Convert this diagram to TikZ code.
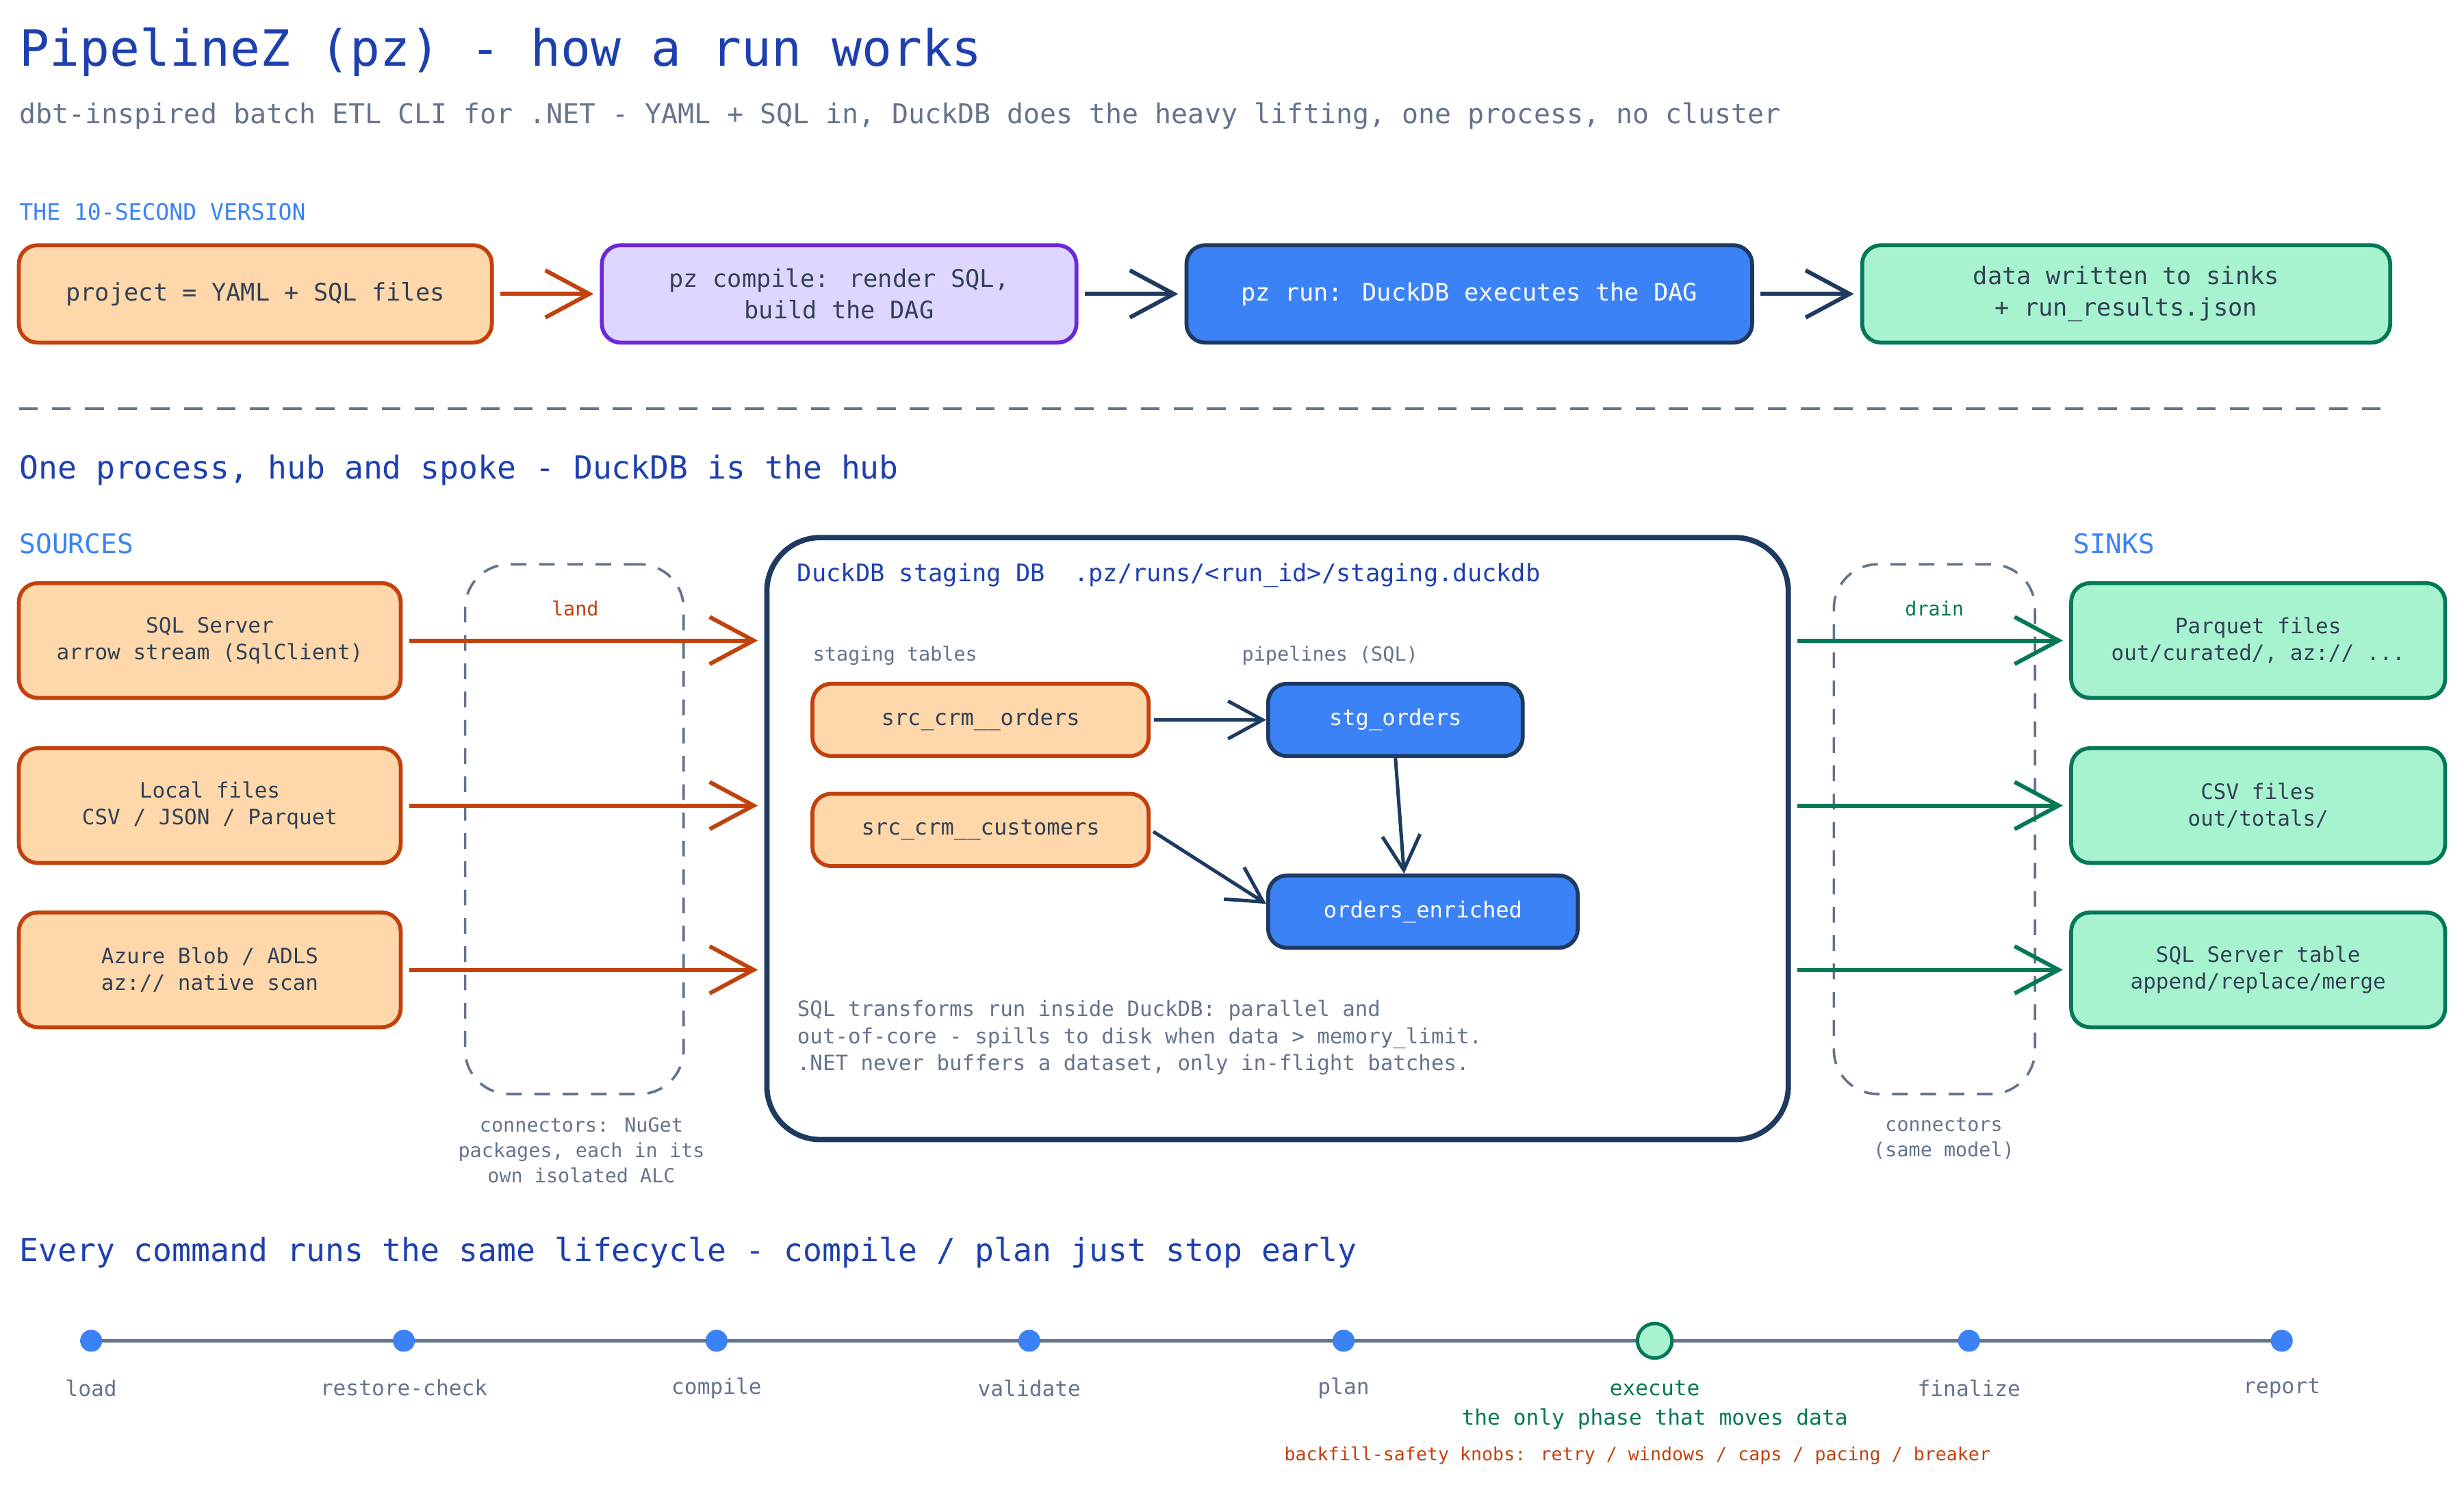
\documentclass[tikz,border=0pt]{standalone}
\usepackage{fontspec}
\setmainfont{DejaVu Sans Mono}
\usetikzlibrary{arrows.meta,calc}
\definecolor{obord}{HTML}{C2410C}
\definecolor{ofill}{HTML}{FED7AA}
\definecolor{pbord}{HTML}{6D28D9}
\definecolor{pfill}{HTML}{DDD6FE}
\definecolor{bfill}{HTML}{3B82F6}
\definecolor{navy}{HTML}{1E3A5F}
\definecolor{gbord}{HTML}{047857}
\definecolor{gfill}{HTML}{A7F3D0}
\definecolor{txt}{HTML}{334155}
\definecolor{gtxt}{HTML}{64748B}
\definecolor{tblue}{HTML}{1E40AF}
\tikzset{
 bx/.style={draw,rounded corners=6pt,line width=1.25pt,align=center,text=txt,font=\fontsize{7.7}{10}\selectfont,inner sep=0pt},
 obox/.style={bx,draw=obord,fill=ofill},
 pbox/.style={bx,draw=pbord,fill=pfill},
 bbox/.style={bx,draw=navy,fill=bfill,text=white},
 gbox/.style={bx,draw=gbord,fill=gfill},
 dbox/.style={draw=gtxt,dash pattern=on 5pt off 4pt,line width=0.8pt,rounded corners=14pt,inner sep=0pt},
 arr/.style={-{Straight Barb[length=14pt,width=15pt,line width=1.3pt]},line width=1.3pt},
 sarr/.style={-{Straight Barb[length=11pt,width=12pt,line width=1.1pt]},line width=1.1pt,draw=navy},
 small/.style={font=\fontsize{6.2}{8}\selectfont,text=gtxt},
 phase/.style={font=\fontsize{6.8}{8}\selectfont,text=gtxt},
 dot/.style={circle,fill=bfill,minimum size=7pt,inner sep=0pt},
}
\begin{document}
\begin{tikzpicture}[x=0.5pt,y=-0.5pt]
\useasboundingbox (0,0) rectangle (1568,945.6);
\node[anchor=west,inner sep=0pt,text=tblue,font=\fontsize{15.9}{18}\selectfont] (title) at (12,33) {PipelineZ (pz) - how a run works};
\node[anchor=west,inner sep=0pt,text=gtxt,font=\fontsize{8.7}{10}\selectfont] (sub) at (12,74) {dbt-inspired batch ETL CLI for .NET - YAML + SQL in, DuckDB does the heavy lifting, one process, no cluster};
\node[anchor=west,inner sep=0pt,text=bfill,font=\fontsize{7.2}{9}\selectfont] (ten) at (12,135) {THE 10-SECOND VERSION};
% top row
\node[obox,minimum width=150.5pt,minimum height=31pt] (t1) at (162.5,187) {project = YAML + SQL files};
\node[pbox,minimum width=151pt,minimum height=31pt] (t2) at (534,187) {pz compile: render SQL,\\build the DAG};
\node[bbox,minimum width=180pt,minimum height=31pt] (t3) at (935,187) {pz run: DuckDB executes the DAG};
\node[gbox,minimum width=168pt,minimum height=31pt] (t4) at (1353,187) {data written to sinks\\+ run\_results.json};
\draw[arr,draw=obord,shorten <=2pt,shorten >=2pt] (t1) -- (t2);
\draw[arr,draw=navy,shorten <=2pt,shorten >=2pt] (t2) -- (t3);
\draw[arr,draw=navy,shorten <=2pt,shorten >=2pt] (t3) -- (t4);
\coordinate (sepl) at (12,260); \coordinate (sepr) at (1522,260);
\draw[gtxt,line width=0.8pt,dash pattern=on 6pt off 4.5pt] (sepl) -- (sepr);
\node[anchor=west,inner sep=0pt,text=tblue,font=\fontsize{10.1}{12}\selectfont] (h2) at (12,299) {One process, hub and spoke - DuckDB is the hub};
\node[anchor=west,inner sep=0pt,text=bfill,font=\fontsize{8.6}{10}\selectfont] (srcl) at (12,346) {SOURCES};
\node[anchor=west,inner sep=0pt,text=bfill,font=\fontsize{8.6}{10}\selectfont] (sinkl) at (1319,346) {SINKS};
% sources
\tikzset{sb/.style={font=\fontsize{6.75}{8.5}\selectfont,minimum width=121.5pt,minimum height=36.5pt}}
\node[obox,sb] (s1) at (133.5,407.5) {SQL Server\\arrow stream (SqlClient)};
\node[obox,sb] (s2) at (133.5,512.5) {Local files\\CSV / JSON / Parquet};
\node[obox,sb] (s3) at (133.5,617) {Azure Blob / ADLS\\az:// native scan};
\tikzset{kb/.style={font=\fontsize{6.75}{8.5}\selectfont,minimum width=119pt,minimum height=36.5pt}}
\node[gbox,kb] (k1) at (1437,407.5) {Parquet files\\out/curated/, az:// ...};
\node[gbox,kb] (k2) at (1437,512.5) {CSV files\\out/totals/};
\node[gbox,kb] (k3) at (1437,617) {SQL Server table\\append/replace/merge};
% dashed connectors
\node[dbox,minimum width=69.5pt,minimum height=168.5pt] (land) at (365.5,527.5) {};
\node[dbox,minimum width=64pt,minimum height=168.5pt] (drain) at (1231,527.5) {};
\node[font=\fontsize{6.2}{8}\selectfont,text=obord] (landl) at (366,387) {land};
\node[font=\fontsize{6.2}{8}\selectfont,text=gbord] (drainl) at (1231,387) {drain};
\node[small,align=center,anchor=north] (landc) at (370,704) {connectors: NuGet\\packages, each in its\\own isolated ALC};
\node[small,align=center,anchor=north] (drainc) at (1237,704) {connectors\\(same model)};
% duckdb
\node[draw=navy,line width=1.7pt,rounded corners=17pt,fill=white,minimum width=325pt,minimum height=191.5pt,inner sep=0pt] (duck) at (813,533.5) {};
\node[anchor=west,inner sep=0pt,text=tblue,font=\fontsize{7.7}{9}\selectfont] (ducktitle) at (507,366) {DuckDB staging DB\ \ .pz/runs/<run\_id>/staging.duckdb};
\node[small,anchor=west,inner sep=0pt] (stl) at (517,417) {staging tables};
\node[small,anchor=west,inner sep=0pt] (ppl) at (790,417) {pipelines (SQL)};
\tikzset{ib/.style={font=\fontsize{7}{9}\selectfont,minimum height=23pt}}
\node[obox,ib,minimum width=107pt] (o1) at (624,458) {src\_crm\_\_orders};
\node[obox,ib,minimum width=107pt] (o2) at (624,528) {src\_crm\_\_customers};
\node[bbox,ib,minimum width=81pt] (stg) at (888,458) {stg\_orders};
\node[bbox,ib,minimum width=98.5pt] (enr) at (905.5,580) {orders\_enriched};
\draw[sarr,shorten <=1pt] (o1) -- (stg);
\draw[sarr] (stg.south) -- ($(enr.north)+(-12,0)$);
\draw[sarr,shorten <=1pt] (o2.east) -- ($(enr.west)+(0,-5)$);
\node[anchor=north west,inner sep=0pt,align=left,text=gtxt,font=\fontsize{6.7}{8.6}\selectfont] (para) at (507,636) {SQL transforms run inside DuckDB: parallel and\\out-of-core - spills to disk when data > memory\_limit.\\.NET never buffers a dataset, only in-flight batches.};
% flows
\foreach \s in {s1,s2,s3}{\draw[arr,draw=obord,shorten <=2pt,shorten >=2pt] (\s.east) -- (\s.east -| duck.west);}
\foreach \k in {k1,k2,k3}{\draw[arr,draw=gbord,shorten <=2pt,shorten >=2pt] (\k.west -| duck.east) -- (\k.west);}
% lifecycle
\node[anchor=west,inner sep=0pt,text=tblue,font=\fontsize{10.1}{12}\selectfont] (h3) at (12,797) {Every command runs the same lifecycle - compile / plan just stop early};
\coordinate (tl) at (58,853); \coordinate (tr) at (1452,853);
\draw[gtxt,line width=1pt] (tl) -- (tr);
\foreach \x/\n/\l in {58/p1/load,257/p2/restore-check,456/p3/compile,655/p4/validate,855/p5/plan,1253/p7/finalize,1452/p8/report}{
  \node[dot] (\n) at (\x,853) {};
  \node[phase] (\n l) at (\x,883) {\l};
}
\node[circle,draw=gbord,fill=gfill,line width=1.1pt,minimum size=11pt,inner sep=0pt] (p6) at (1053,853) {};
\node[phase,text=gbord] (p6l) at (1053,883) {execute};
\node[phase,text=gbord] (p6n) at (1053,903) {the only phase that moves data};
\node[font=\fontsize{5.8}{7}\selectfont,text=obord] (p6k) at (1042,926) {backfill-safety knobs: retry / windows / caps / pacing / breaker};
\end{tikzpicture}
\end{document}
